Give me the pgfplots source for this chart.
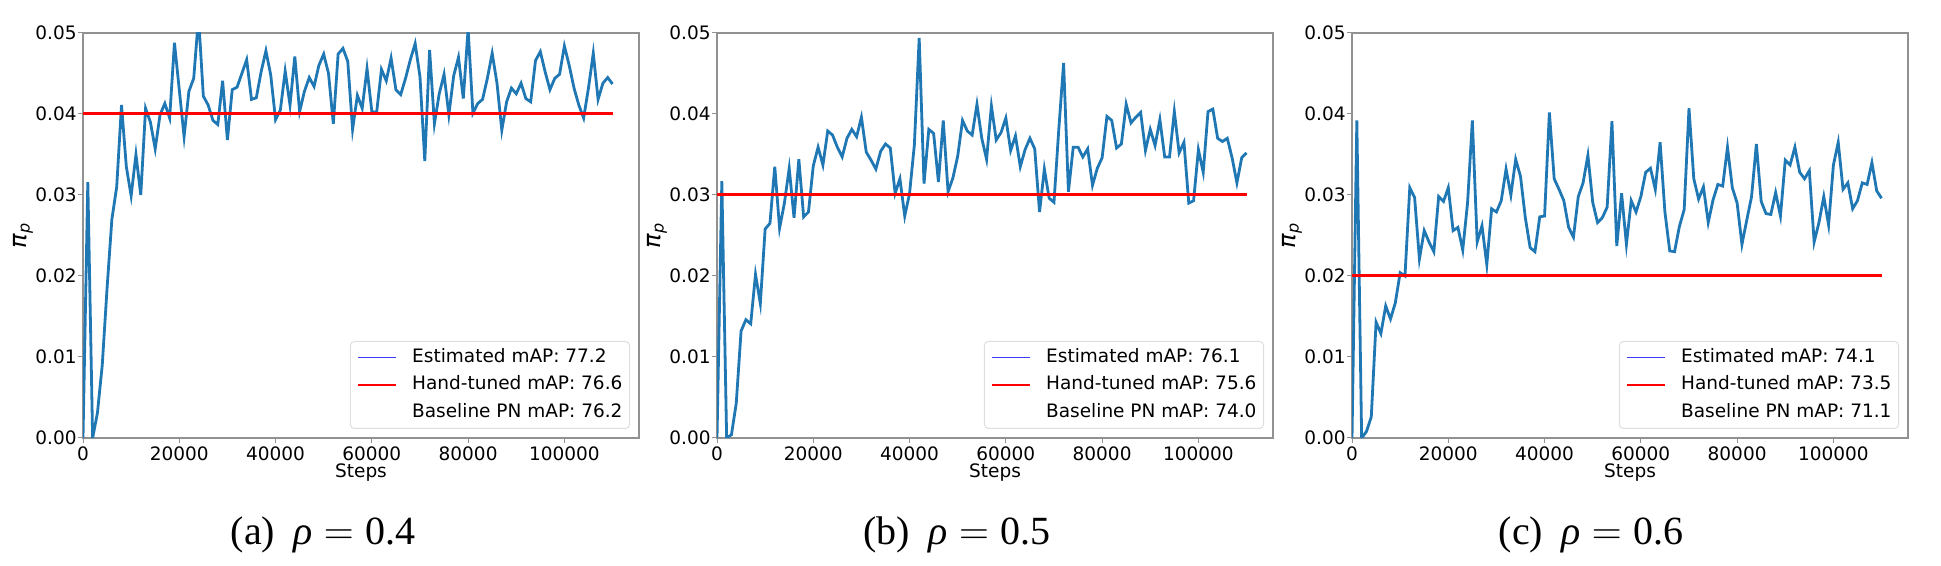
\documentclass[border=0pt]{standalone}
\usepackage{pgfplots}
\pgfplotsset{compat=1.18}
\usepackage{pgfplotstable}
\usepackage{fontspec}
\setmainfont{DejaVu Sans}
\newfontfamily\capfont{Liberation Serif}
\definecolor{cZero}{HTML}{1F77B4}
\definecolor{legblue}{RGB}{60,60,255}
\definecolor{spine}{RGB}{145,145,145}

\pgfplotstableread{
s y
0 0
1 0.0316
2 0
3 0.0031
4 0.009
5 0.0185
6 0.027
7 0.031
8 0.0411
9 0.0335
10 0.0299
11 0.035
12 0.030
13 0.0407
14 0.039
15 0.0357
16 0.0399
17 0.0413
18 0.0395
19 0.0488
20 0.043
21 0.0372
22 0.0428
23 0.0444
24 0.052
25 0.0422
26 0.0411
27 0.0392
28 0.0387
29 0.0441
30 0.0368
31 0.043
32 0.0433
33 0.045
34 0.0467
35 0.0418
36 0.042
37 0.0452
38 0.0478
39 0.0448
40 0.0393
41 0.0405
42 0.0453
43 0.0411
44 0.0471
45 0.0403
46 0.0428
47 0.0445
48 0.0434
49 0.046
50 0.0474
51 0.045
52 0.0388
53 0.0474
54 0.0481
55 0.0465
56 0.0381
57 0.0423
58 0.0407
59 0.0456
60 0.0403
61 0.0402
62 0.0455
63 0.0441
64 0.0469
65 0.043
66 0.0424
67 0.0444
68 0.0467
69 0.0487
70 0.0446
71 0.0342
72 0.0479
73 0.0388
74 0.0425
75 0.0449
76 0.0399
77 0.0447
78 0.047
79 0.0419
80 0.0505
81 0.0401
82 0.0413
83 0.0418
84 0.0444
85 0.0475
86 0.0438
87 0.038
88 0.0415
89 0.0432
90 0.0425
91 0.0438
92 0.0419
93 0.0415
94 0.0466
95 0.0477
96 0.0452
97 0.043
98 0.0444
99 0.0449
100 0.0484
101 0.046
102 0.0432
103 0.0411
104 0.0395
105 0.0432
106 0.0475
107 0.0418
108 0.0438
109 0.0445
110 0.0437
}\dataA

\pgfplotstableread{
s y
0 0
1 0.0317
2 0.0
3 0.0004
4 0.0043
5 0.0132
6 0.0146
7 0.0141
8 0.0202
9 0.0166
10 0.0258
11 0.0265
12 0.0335
13 0.0259
14 0.029
15 0.0333
16 0.0272
17 0.0344
18 0.0273
19 0.0279
20 0.0336
21 0.0359
22 0.0337
23 0.0379
24 0.0374
25 0.0359
26 0.0347
27 0.037
28 0.0381
29 0.0372
30 0.0396
31 0.0353
32 0.0343
33 0.0332
34 0.0354
35 0.0363
36 0.0358
37 0.0302
38 0.032
39 0.0274
40 0.0302
41 0.0362
42 0.0494
43 0.0314
44 0.0381
45 0.0376
46 0.0316
47 0.0392
48 0.0304
49 0.0321
50 0.0348
51 0.0392
52 0.0379
53 0.0374
54 0.0412
55 0.037
56 0.0344
57 0.041
58 0.0368
59 0.0377
60 0.0395
61 0.0355
62 0.0373
63 0.0335
64 0.0356
65 0.037
66 0.0357
67 0.0279
68 0.0332
69 0.0296
70 0.0291
71 0.0381
72 0.0463
73 0.0304
74 0.0359
75 0.0359
76 0.0347
77 0.0357
78 0.0312
79 0.0333
80 0.0346
81 0.0397
82 0.0392
83 0.0358
84 0.0363
85 0.0412
86 0.0389
87 0.0396
88 0.0402
89 0.0355
90 0.0381
91 0.0361
92 0.0393
93 0.0347
94 0.0347
95 0.0403
96 0.0352
97 0.0365
98 0.029
99 0.0293
100 0.0356
101 0.0328
102 0.0403
103 0.0406
104 0.037
105 0.0366
106 0.037
107 0.0346
108 0.0315
109 0.0346
110 0.0352
}\dataB

\pgfplotstableread{
s y
0 0
1 0.0392
2 0
3 0.0008
4 0.0026
5 0.0143
6 0.0129
7 0.0163
8 0.0147
9 0.0167
10 0.0204
11 0.0200
12 0.0309
13 0.0297
14 0.0221
15 0.0256
16 0.0242
17 0.023
18 0.0298
19 0.0292
20 0.0309
21 0.0256
22 0.026
23 0.0232
24 0.029
25 0.0392
26 0.0242
27 0.0262
28 0.0214
29 0.0283
30 0.0279
31 0.0293
32 0.0332
33 0.03
34 0.0344
35 0.0323
36 0.0272
37 0.0235
38 0.023
39 0.0273
40 0.0274
41 0.0402
42 0.032
43 0.0307
44 0.0293
45 0.026
46 0.0248
47 0.0298
48 0.0315
49 0.0349
50 0.0291
51 0.0266
52 0.0272
53 0.0285
54 0.0391
55 0.0237
56 0.0302
57 0.0239
58 0.0293
59 0.0279
60 0.0298
61 0.0328
62 0.0333
63 0.0307
64 0.0365
65 0.0279
66 0.0231
67 0.023
68 0.0261
69 0.0282
70 0.0407
71 0.032
72 0.0295
73 0.031
74 0.0266
75 0.0294
76 0.0313
77 0.0311
78 0.0359
79 0.0309
80 0.029
81 0.0239
82 0.0269
83 0.0298
84 0.0363
85 0.0292
86 0.0277
87 0.0276
88 0.0303
89 0.0274
90 0.0343
91 0.0337
92 0.0359
93 0.0328
94 0.032
95 0.033
96 0.0242
97 0.0266
98 0.0298
99 0.0263
100 0.0337
101 0.0365
102 0.0307
103 0.0315
104 0.0283
105 0.0293
106 0.0315
107 0.0313
108 0.034
109 0.0305
110 0.0296
}\dataC

\pgfplotsset{
  panel/.style={
    scale only axis, width=278pt, height=202.5pt,
    xmin=0, xmax=115500, ymin=0, ymax=0.05,
    xtick={0,20000,40000,60000,80000,100000},
    xticklabels={0,20000,40000,60000,80000,100000},
    ytick={0,0.01,0.02,0.03,0.04,0.05},
    yticklabels={0.00,0.01,0.02,0.03,0.04,0.05},
    scaled x ticks=false, scaled y ticks=false,
    tick align=outside, tick pos=left, major tick length=2.5pt,
    tick style={spine, line width=0.5pt},
    axis line style={spine, line width=0.6pt},
    ticklabel style={font=\fontsize{9.25}{11}\selectfont},
    xticklabel style={inner ysep=1.5pt},
    yticklabel style={inner xsep=0.5pt},
    xlabel={Steps},
    every axis x label/.style={at={(axis description cs:0.5,0)}, anchor=base, yshift=-20pt, font=\fontsize{9.25}{11}\selectfont},
    ylabel={\textit{π}\textsubscript{\textit{p}}},
    every axis y label/.style={at={(axis description cs:-0.108,0.5)}, rotate=90, anchor=center, font=\fontsize{12}{14}\selectfont},
    legend cell align=left,
    legend style={at={(1,0)}, anchor=south east, xshift=-4.5pt, yshift=4.5pt,
      draw=black!13, line width=0.5pt, rounded corners=2pt, fill=white,
      font=\fontsize{9.25}{11}\selectfont, inner xsep=3.5pt, inner ysep=3.5pt,
      column sep=7.5pt, row sep=4.75pt,
      nodes={inner sep=0pt, text height=7pt, text depth=2pt}},
    legend image code/.code={\draw[#1] (0pt,0pt) -- (19pt,0pt);},
  }
}

\begin{document}
\begin{tikzpicture}
\useasboundingbox (0,0) rectangle (970.5pt,283pt);

\begin{axis}[panel, at={(41.5pt,64pt)}, anchor=south west]
\addplot[cZero, line width=1.4pt, forget plot] table[x expr=\thisrow{s}*1000, y=y] {\dataA};
\addplot[red, line width=1.5pt, forget plot] coordinates {(0,0.04) (110000,0.04)};
\addlegendimage{legblue, line width=0.9pt}
\addlegendentry{Estimated mAP: 77.2}
\addlegendimage{red, line width=0.75pt}
\addlegendentry{Hand-tuned mAP: 76.6}
\addlegendimage{white, line width=0.1pt}
\addlegendentry{Baseline PN mAP: 76.2}
\end{axis}

\begin{axis}[panel, at={(358.5pt,64pt)}, anchor=south west]
\addplot[cZero, line width=1.4pt, forget plot] table[x expr=\thisrow{s}*1000, y=y] {\dataB};
\addplot[red, line width=1.5pt, forget plot] coordinates {(0,0.03) (110000,0.03)};
\addlegendimage{legblue, line width=0.9pt}
\addlegendentry{Estimated mAP: 76.1}
\addlegendimage{red, line width=0.75pt}
\addlegendentry{Hand-tuned mAP: 75.6}
\addlegendimage{white, line width=0.1pt}
\addlegendentry{Baseline PN mAP: 74.0}
\end{axis}

\begin{axis}[panel, at={(676pt,64pt)}, anchor=south west]
\addplot[cZero, line width=1.4pt, forget plot] table[x expr=\thisrow{s}*1000, y=y] {\dataC};
\addplot[red, line width=1.5pt, forget plot] coordinates {(0,0.02) (110000,0.02)};
\addlegendimage{legblue, line width=0.9pt}
\addlegendentry{Estimated mAP: 74.1}
\addlegendimage{red, line width=0.75pt}
\addlegendentry{Hand-tuned mAP: 73.5}
\addlegendimage{white, line width=0.1pt}
\addlegendentry{Baseline PN mAP: 71.1}
\end{axis}

\node[anchor=base, font=\capfont\fontsize{20}{24}\selectfont] at (161.5pt,10.5pt) {(a)\hspace{0.45em}\textit{ρ}$\;=\;$0.4};
\node[anchor=base, font=\capfont\fontsize{20}{24}\selectfont] at (478.5pt,10.5pt) {(b)\hspace{0.45em}\textit{ρ}$\;=\;$0.5};
\node[anchor=base, font=\capfont\fontsize{20}{24}\selectfont] at (795.5pt,10.5pt) {(c)\hspace{0.45em}\textit{ρ}$\;=\;$0.6};
\end{tikzpicture}
\end{document}
